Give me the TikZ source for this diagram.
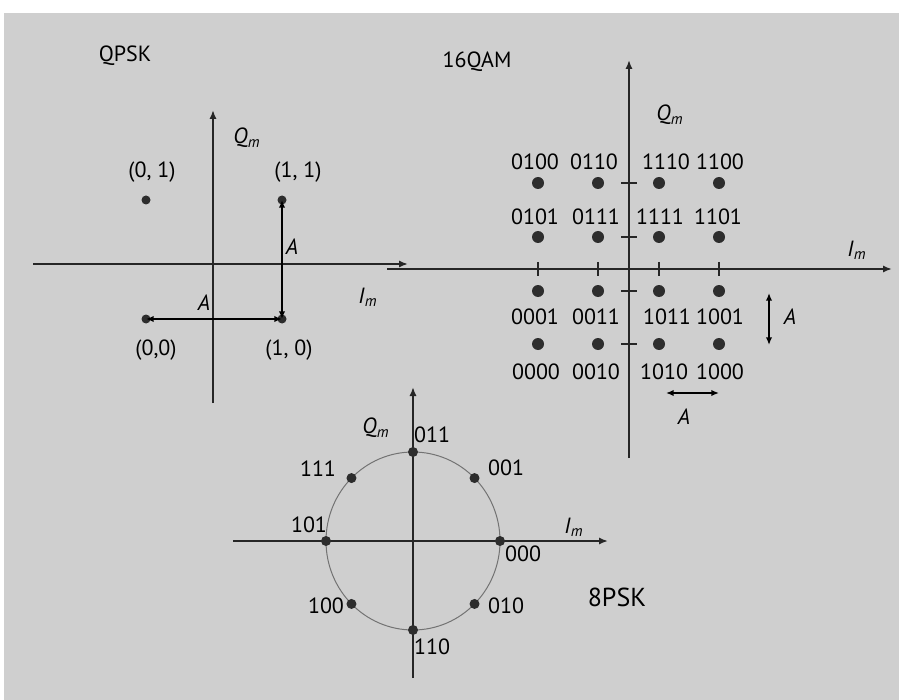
\documentclass[tikz,border=0pt]{standalone}
\usepackage{fontspec}
\setmainfont{PT Sans}
\usetikzlibrary{arrows.meta}
\definecolor{bggray}{RGB}{207,207,207}
\definecolor{dotgray}{RGB}{45,45,45}
\newcommand{\axlab}[1]{\textit{#1}\textsubscript{\textit{m}}}

\begin{document}
\begin{tikzpicture}[x=0.5pt,y=-0.5pt,
    font=\fontsize{11}{13}\selectfont,
    axis/.style={line width=0.9pt,draw=black!85,-{Latex[length=4.5pt,width=3.6pt]}},
    tick/.style={line width=0.6pt,draw=black!85},
    dimarrow/.style={line width=0.8pt,{Latex[length=3.8pt,width=3.2pt]}-{Latex[length=3.8pt,width=3.2pt]}},
    dot/.style={circle,fill=dotgray,inner sep=0pt,minimum size=#1}]
    % page and background
    \useasboundingbox (0,0) rectangle (899,700);
    \fill[bggray] (4,13) rectangle (899,700);

    % QPSK
    \node (qpsk) at (125,56) {QPSK};
    \coordinate (qxl) at (33,264);
    \coordinate (qxr) at (408,264);
    \coordinate (qyb) at (213,403);
    \coordinate (qyt) at (213,110);
    \draw[axis] (qxl) -- (qxr);
    \draw[axis] (qyb) -- (qyt);
    \node (qpskq) at (247,138) {\axlab{Q}};
    \node (qpski) at (368,297) {\axlab{I}};
    \node[dot=4.5pt] (p01) at (146,200) {};
    \node[dot=4.5pt] (p11) at (282,200) {};
    \node[dot=4.5pt] (p00) at (146,319) {};
    \node[dot=4.5pt] (p10) at (282,319) {};
    \node (l01) at (152,172) {(0, 1)};
    \node (l11) at (298,172) {(1, 1)};
    \node (l00) at (156,350) {(0,0)};
    \node (l10) at (289,350) {(1, 0)};
    \draw[dimarrow] (p10.center) -- (p11.center);
    \draw[dimarrow] (p00.center) -- (p10.center);
    \node (qav) at (292,247) {\textit{A}};
    \node (qah) at (204,303) {\textit{A}};

    % 16QAM
    \node (qam) at (477,62) {16QAM};
    \coordinate (mxl) at (387,269);
    \coordinate (mxr) at (892,269);
    \coordinate (myb) at (629,458);
    \coordinate (myt) at (629,60);
    \draw[axis] (mxl) -- (mxr);
    \draw[axis] (myb) -- (myt);
    \node (qamq) at (670,115) {\axlab{Q}};
    \node (qami) at (857,250) {\axlab{I}};
    \foreach \tx in {538,598,659,719}
        \draw[tick] (\tx,262) -- (\tx,276);
    \foreach \ty in {183,237,291,344}
        \draw[tick] (621,\ty) -- (637,\ty);
    \foreach \lab/\cx/\cy/\lx/\ly in {
        0100/538/183/535/162, 0110/598/183/594/162, 1110/659/183/666/162, 1100/719/183/720/162,
        0101/538/237/535/217, 0111/598/237/596/217, 1111/659/237/660/217, 1101/719/237/718/217,
        0001/538/291/535/317, 0011/598/291/596/317, 1011/659/291/667/317, 1001/719/291/720/317,
        0000/538/344/536/372, 0010/598/344/596/372, 1010/659/344/664/372, 1000/719/344/720/372}{
        \node[dot=6pt] (m\lab) at (\cx,\cy) {};
        \node (ml\lab) at (\lx,\ly) {\lab};
    }
    \coordinate (av1) at (769,293);
    \coordinate (av2) at (769,345);
    \draw[dimarrow] (av1) -- (av2);
    \node (mav) at (790,317) {\textit{A}};
    \coordinate (ah1) at (666,393);
    \coordinate (ah2) at (719,393);
    \draw[dimarrow] (ah1) -- (ah2);
    \node (mah) at (684,417) {\textit{A}};

    % 8PSK
    \coordinate (sc) at (413,541);
    \draw[black!55,line width=0.5pt] (sc) ellipse[x radius=43.5pt,y radius=44.5pt];
    \coordinate (sxl) at (233,541);
    \coordinate (sxr) at (608,541);
    \coordinate (syb) at (413,678);
    \coordinate (syt) at (413,387);
    \draw[axis] (sxl) -- (sxr);
    \draw[axis] (syb) -- (syt);
    \node (pskq) at (376,428) {\axlab{Q}};
    \node (pski) at (574,527) {\axlab{I}};
    \foreach \ang/\lab/\lx/\ly in {0/000/523/554, 45/001/506/468, 90/011/432/435, 135/111/318/469,
        180/101/309/525, 225/100/326/606, 270/110/432/647, 315/010/506/606}{
        \node[dot=5pt] (s\lab) at ({413+87*cos(\ang)},{541-89*sin(\ang)}) {};
        \node (sl\lab) at (\lx,\ly) {\lab};
    }
    \node[font=\fontsize{13}{15}\selectfont] (psk) at (617,597) {8PSK};
\end{tikzpicture}
\end{document}
